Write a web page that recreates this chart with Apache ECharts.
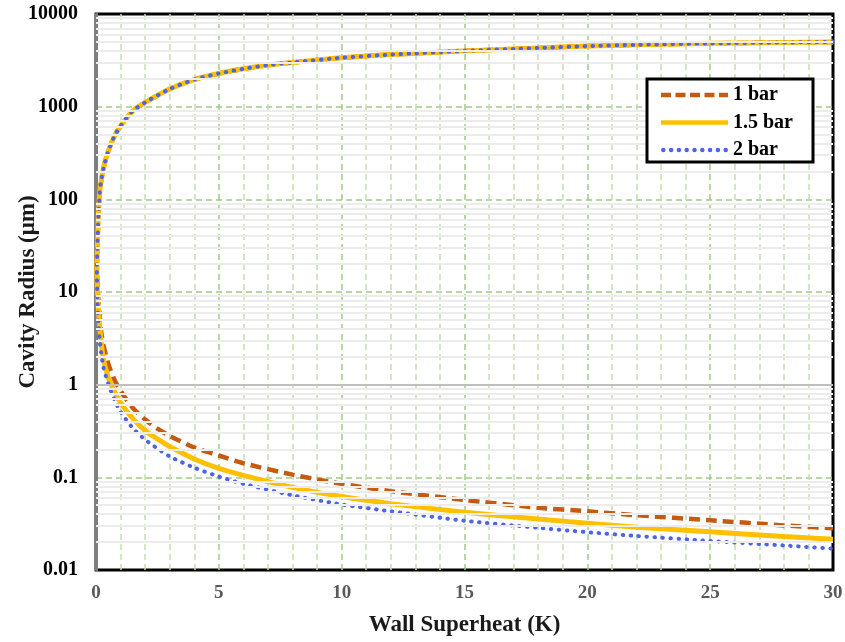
<!DOCTYPE html>
<html>
<head>
<meta charset="utf-8">
<script src="https://cdn.jsdelivr.net/npm/echarts@6/dist/echarts.min.js"></script>
<style>
  html, body { margin: 0; padding: 0; background: #fff; }
  #chart { width: 845px; height: 642px; }
</style>
</head>
<body>
<div id="chart"></div>
<script>
// upper branch (same for all pressures)
var upperDT = [0.035, 0.05, 0.07, 0.1, 0.16, 0.2, 0.3, 0.5, 0.75, 1, 1.5, 2, 3, 4, 5, 6, 7, 8, 10, 12, 15, 18, 20, 22, 25, 28, 30];
var upperR = [18, 26, 40, 70, 126, 150, 215, 330, 480, 620, 900, 1110, 1550, 1960, 2280, 2560, 2810, 3000, 3370, 3650, 4000, 4300, 4510, 4650, 4820, 4930, 4980];

// lower branch
var lowerDT = [0.035, 0.06, 0.1, 0.15, 0.2, 0.3, 0.5, 0.75, 1, 1.5, 2, 2.5, 3, 4, 5, 6, 8, 10, 12, 15, 18, 20, 22, 25, 28, 30];
var lower1bar = [18, 13, 8, 5.5, 3.9, 2.7, 1.68, 1.13, 0.86, 0.56, 0.42, 0.335, 0.28, 0.21, 0.172, 0.142, 0.107, 0.085, 0.071, 0.057, 0.047, 0.043, 0.039, 0.0344, 0.0303, 0.0282];
var lower15bar = [18, 10, 6.5, 4.3, 3.1, 1.9, 1.2, 0.84, 0.64, 0.43, 0.32, 0.26, 0.215, 0.158, 0.125, 0.105, 0.078, 0.062, 0.052, 0.042, 0.0355, 0.032, 0.029, 0.0258, 0.023, 0.0215];
var lower2bar = [18, 8, 4.6, 3.0, 2.3, 1.55, 1.02, 0.69, 0.51, 0.34, 0.255, 0.205, 0.168, 0.127, 0.102, 0.085, 0.064, 0.051, 0.043, 0.034, 0.0285, 0.0256, 0.0233, 0.0206, 0.0184, 0.017];

var seriesNames = ['1 bar', '1.5 bar', '2 bar'];
var yTicks = [0.01, 0.1, 1, 10, 100, 1000, 10000];

// upper branch from 30 K back to the turning point, then lower branch out to 30 K
function curve(lower) {
  var pts = [];
  for (var i = upperDT.length - 1; i >= 0; i--) pts.push([upperDT[i], upperR[i]]);
  for (var j = 1; j < lowerDT.length; j++) pts.push([lowerDT[j], lower[j]]);
  return pts;
}

// excel style minor gridlines 2..9 per decade
var minorLines = [];
for (var d = 0; d < yTicks.length - 1; d++) {
  for (var m = 2; m <= 9; m++) minorLines.push({ yAxis: yTicks[d] * m });
}

// legend icons drawn as paths (dash / solid / dots)
var dashIcon = 'path://M0,0h10v4.5h-10z M14.5,0h10v4.5h-10z M29,0h10v4.5h-10z M43.5,0h10v4.5h-10z M58,0h9v4.5h-9z';
var solidIcon = 'path://M0,0h67v4.5h-67z';
var dotIcon = 'path://';
for (var k = 0; k < 9; k++) {
  var cx = 2.25 + k * 7.8;
  dotIcon += 'M' + (cx - 2.25) + ',2.25a2.25,2.25 0 1,0 4.5,0a2.25,2.25 0 1,0 -4.5,0z';
}

var font = 'Liberation Serif';
var chart = echarts.init(document.getElementById('chart'));
chart.setOption({
  animation: false,
  grid: {
    left: 96, right: 12, top: 14, bottom: 72,
    outerBoundsMode: 'none',
    show: true, borderColor: '#000', borderWidth: 3
  },
  legend: {
    data: [
      { name: seriesNames[0], icon: dashIcon },
      { name: seriesNames[1], icon: solidIcon },
      { name: seriesNames[2], icon: dotIcon }
    ],
    orient: 'vertical',
    left: 647, top: 79, z: 10,
    padding: [6, 20, 2, 14],
    itemWidth: 67, itemHeight: 4.5, itemGap: 7.5,
    borderColor: '#000', borderWidth: 3,
    backgroundColor: '#fff',
    textStyle: { fontFamily: font, fontWeight: 'bold', fontSize: 20, color: '#000' }
  },
  xAxis: {
    type: 'value', min: 0, max: 30, interval: 5,
    name: 'Wall Superheat (K)', nameLocation: 'middle', nameGap: 44,
    nameTextStyle: { fontFamily: font, fontWeight: 'bold', fontSize: 23, color: '#1a1a1a' },
    axisLine: { show: false },
    axisTick: { show: false },
    axisLabel: { fontFamily: font, fontWeight: 'bold', fontSize: 19, color: '#595959', margin: 14 },
    splitLine: { show: true, showMinLine: false, showMaxLine: false, lineStyle: { color: '#A3C98A', type: [6, 4], width: 1.5 } },
    minorTick: { show: false, splitNumber: 5 },
    minorSplitLine: { show: true, lineStyle: { color: '#C6DDB3', type: [6, 4], width: 1.5 } }
  },
  yAxis: {
    type: 'log', logBase: 10, min: 0.01, max: 10000, splitNumber: 6,
    name: 'Cavity Radius (μm)', nameLocation: 'middle', nameGap: 56,
    nameMoveOverlap: false,
    nameTextStyle: { fontFamily: font, fontWeight: 'bold', fontSize: 23, color: '#1a1a1a' },
    axisLine: { show: true, lineStyle: { color: '#7f7f7f', width: 3 } },
    axisTick: { show: false },
    axisLabel: {
      fontFamily: font, fontWeight: 'bold', fontSize: 20, color: '#000', margin: 18,
      formatter: function (v) { return String(parseFloat(Number(v).toPrecision(3))); }
    },
    splitLine: { show: true, showMinLine: false, showMaxLine: false, lineStyle: { color: '#A3C98A', type: [6, 4], width: 1.5 } }
  },
  series: [
    {
      name: 'grid', type: 'line', data: [], z: 1, silent: true,
      markLine: {
        silent: true, symbol: ['none', 'none'], label: { show: false },
        lineStyle: { color: '#ECECEC', type: 'solid', width: 2 },
        data: minorLines.concat([{ yAxis: 1, lineStyle: { color: '#BFBFBF', width: 2 } }])
      }
    },
    {
      name: seriesNames[0], type: 'line', data: curve(lower1bar),
      showSymbol: false, symbol: 'none', smooth: 0.25,
      itemStyle: { color: '#C55A11' },
      lineStyle: { color: '#C55A11', width: 4.5, type: [11, 6] }
    },
    {
      name: seriesNames[1], type: 'line', data: curve(lower15bar),
      showSymbol: false, symbol: 'none', smooth: 0.25,
      itemStyle: { color: '#FFC000' },
      lineStyle: { color: '#FFC000', width: 5, type: 'solid' }
    },
    {
      name: seriesNames[2], type: 'line', data: curve(lower2bar),
      showSymbol: false, symbol: 'none', smooth: 0.25,
      itemStyle: { color: '#4F63E6' },
      lineStyle: { color: '#4F63E6', width: 4, type: [0.5, 7.5], cap: 'round' }
    }
  ]
});
</script>
</body>
</html>
